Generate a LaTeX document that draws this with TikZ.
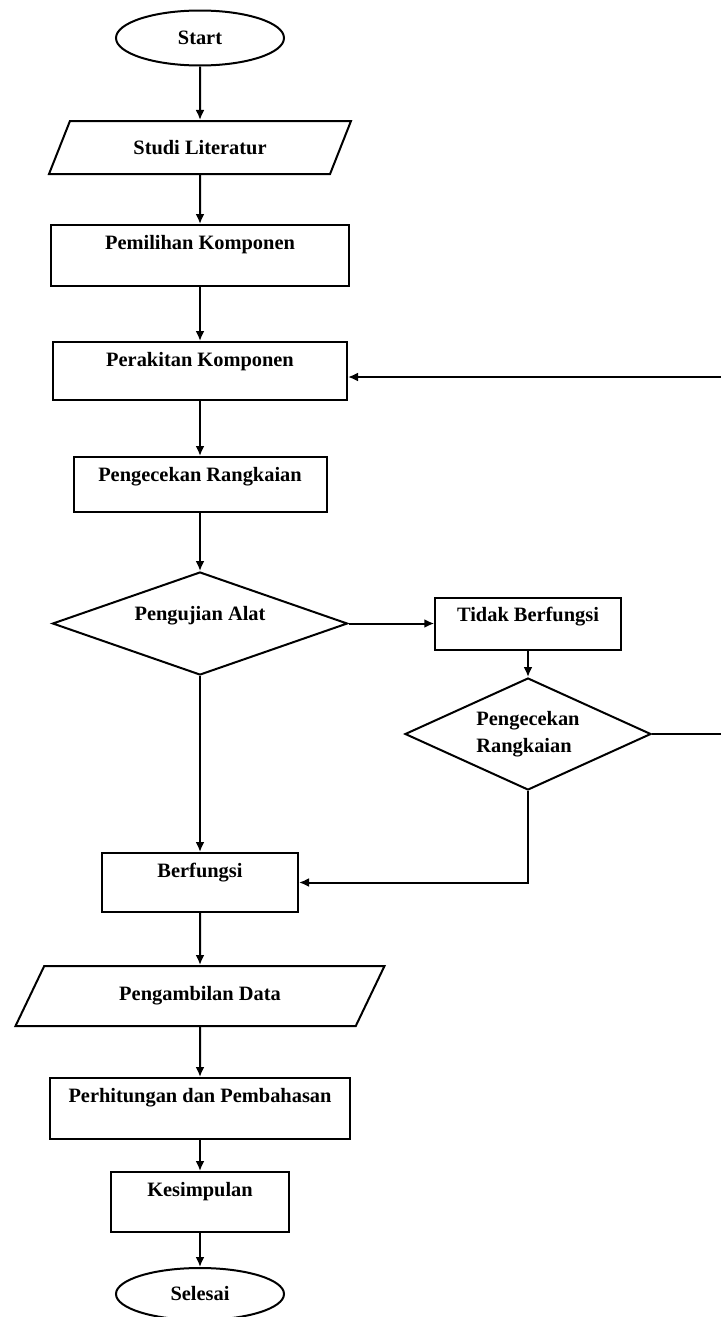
\documentclass[tikz,border=0pt]{standalone}
\usepackage{fontspec}
\setmainfont{Liberation Serif}
\usepackage{tikz}
\usetikzlibrary{arrows.meta,shapes.geometric}

\begin{document}
\begin{tikzpicture}[x=0.5pt, y=-0.5pt, line width=1pt,
	every node/.style={font=\bfseries\fontsize{10.2}{13.5}\selectfont, inner sep=0pt},
	term/.style={draw, ellipse, minimum width=84pt, minimum height=27.5pt},
	proses/.style={draw, rectangle, text height=12pt},
	io/.style={draw, trapezium, trapezium stretches body},
	cek/.style={draw, diamond, aspect=2.5},
	>={Latex[length=5pt,width=4.5pt]}]
			\useasboundingbox (0,0) rectangle (721,1317);

			\node[term] (start) at (200,38) {Start};
			\node[io, trapezium left angle=34.5, trapezium right angle=145.5, minimum width=151pt, minimum height=26.5pt] (studi) at (200,147.5) {Studi Literatur};
			\node[proses, minimum width=149pt, text depth=18.5pt] (pilih) at (200,255.5) {Pemilihan Komponen};
			\node[proses, minimum width=147pt, text depth=17pt] (rakit) at (200,371) {Perakitan Komponen};
			\node[proses, minimum width=126.5pt, text depth=15.5pt] (cekrangkaian) at (200,484.5) {Pengecekan Rangkaian};
			\node[cek, minimum width=147.5pt, minimum height=51.5pt, text height=7pt, text depth=10pt] (uji) at (200,623.5) {Pengujian Alat};
			\node[proses, minimum width=92.75pt, text depth=14pt] (tidak) at (528,623.5) {Tidak Berfungsi};
			\node[cek, minimum width=123pt, minimum height=56pt, align=left] (cekulang) at (528,734) {Pengecekan\\Rangkaian};
			\node[proses, minimum width=98pt, text depth=17.5pt] (fungsi) at (200,882.5) {Berfungsi};
			\node[io, trapezium left angle=33, trapezium right angle=147, minimum width=184.5pt, minimum height=30pt] (ambil) at (200,996) {Pengambilan Data};
			\node[proses, minimum width=150pt, text depth=18.5pt] (hitung) at (200,1108.5) {Perhitungan dan Pembahasan};
			\node[proses, minimum width=89pt, text depth=18pt] (simpul) at (200,1202) {Kesimpulan};
			\node[term, minimum height=26pt] (selesai) at (200,1294) {Selesai};
			\coordinate (kanan) at (724,734);

			\draw [->] (start) to (studi);
			\draw [->] (studi) to (pilih);
			\draw [->] (pilih) to (rakit);
			\draw [->] (rakit) to (cekrangkaian);
			\draw [->] (cekrangkaian) to (uji);
			\draw [->] (uji.east) to (tidak.west);
			\draw [->] (tidak) to (cekulang);
			\draw [->] (cekulang.east) -- (kanan) |- ([yshift=-3pt]rakit.east);
			\draw [->] (cekulang.south) |- (fungsi.east);
			\draw [->] (uji.south) to (fungsi.north);
			\draw [->] (fungsi) to (ambil);
			\draw [->] (ambil) to (hitung);
			\draw [->] (hitung) to (simpul);
			\draw [->] (simpul) to (selesai);
		\end{tikzpicture}
\end{document}
